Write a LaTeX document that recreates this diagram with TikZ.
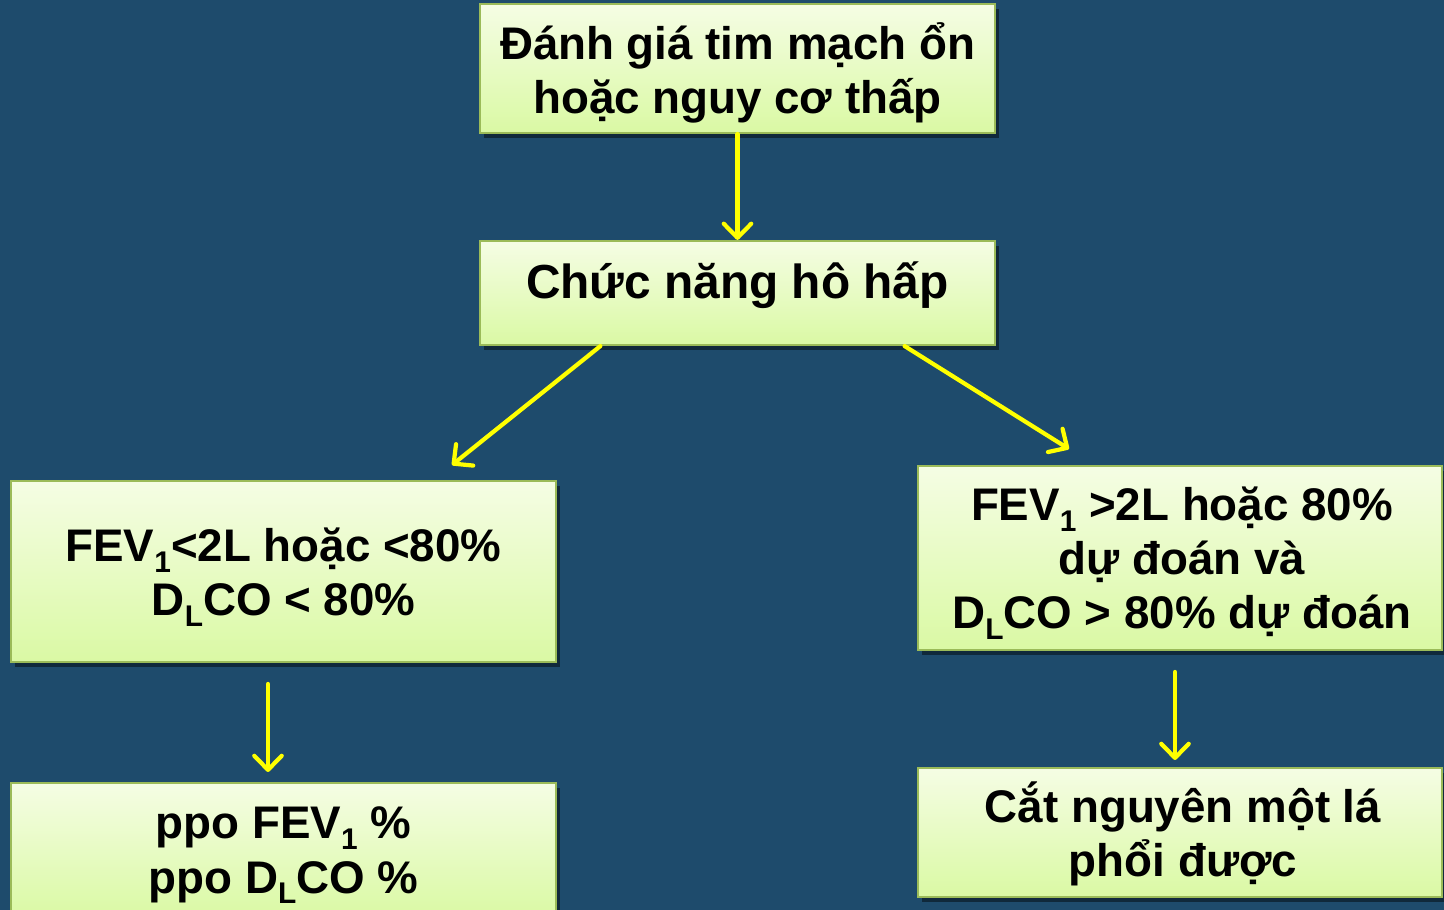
\documentclass[tikz,border=0pt]{standalone}
\usepackage{fontspec}
\setmainfont{Liberation Sans}
\usetikzlibrary{arrows.meta,shadows,calc}
\definecolor{bgblue}{HTML}{1E4B6C}
\definecolor{boxtop}{HTML}{F5FDE4}
\definecolor{boxbot}{HTML}{DAF9A4}
\definecolor{boxline}{HTML}{9BBB59}
\definecolor{arrowyel}{HTML}{FFFF00}
\newcommand\sbs[1]{\raisebox{-0.45ex}{\fontsize{8.5}{9}\selectfont #1}}
\tikzset{
  flowbox/.style={draw=boxline, line width=0.6pt, top color=boxtop, bottom color=boxbot,
    inner sep=0pt,
    drop shadow={shadow xshift=1.1pt, shadow yshift=-1.3pt, opacity=0.45, fill=black}},
  boxtext/.style={inner sep=0pt, align=center, font=\fontsize{13}{15.4}\selectfont\bfseries},
  flowarrow/.style={draw=arrowyel, line width=1.2pt, line cap=round,
    -{Straight Barb[length=4pt,width=7.8pt,line width=1.2pt,round]}}
}
\begin{document}
\begin{tikzpicture}[x=0.01cm, y=-0.01cm]
\fill[bgblue] (0,0) rectangle (1444,910);
\useasboundingbox (0,0) rectangle (1444,910);
\clip (0,0) rectangle (1444,910);

\node[flowbox, minimum width=5.15cm, minimum height=1.29cm] (top) at (737.5,68.5) {};
\node[boxtext] (topt) at (737.5,72.5) {Đánh giá tim mạch ổn\\hoặc nguy cơ thấp};

\node[flowbox, minimum width=5.15cm, minimum height=1.04cm] (mid) at (737.5,293) {};
\node[boxtext, font=\fontsize{13.6}{16}\selectfont\bfseries] (midt) at (737.5,285) {Chức năng hô hấp};

\node[flowbox, minimum width=5.45cm, minimum height=1.81cm] (left) at (283.5,571.5) {};
\node[boxtext] (leftt) at (283.5,577.5) {FEV\sbs{1}<2L hoặc <80\%\\D\sbs{L}CO < 80\%};

\node[flowbox, minimum width=5.24cm, minimum height=1.84cm] (right) at (1180,558) {};
\node[boxtext] (rightt) at (1182,563.4) {FEV\sbs{1} >2L hoặc 80\%\\dự đoán và\\D\sbs{L}CO > 80\% dự đoán};

\node[flowbox, minimum width=5.45cm, minimum height=1.34cm] (bl) at (283.5,850) {};
\node[boxtext] (blt) at (283.5,855.5) {ppo FEV\sbs{1} \%\\ppo D\sbs{L}CO \%};

\node[flowbox, minimum width=5.24cm, minimum height=1.29cm] (br) at (1180,832.5) {};
\node[boxtext] (brt) at (1183,833.5) {Cắt nguyên một lá\\phổi được};

\coordinate (ml) at ($(mid.south west)!0.235!(mid.south east)$);
\coordinate (mr) at ($(mid.south west)!0.823!(mid.south east)$);
\coordinate (lend) at (452,465);
\coordinate (rend) at (1069,449);
\coordinate (l1) at (268,684);
\coordinate (l2) at (268,772);
\coordinate (r1) at (1175,672);
\coordinate (r2) at (1175,760);

\draw[flowarrow] (top.south) -- (mid.north);
\draw[flowarrow] (ml) -- (lend);
\draw[flowarrow] (mr) -- (rend);
\draw[flowarrow] (l1) -- (l2);
\draw[flowarrow] (r1) -- (r2);
\end{tikzpicture}
\end{document}
